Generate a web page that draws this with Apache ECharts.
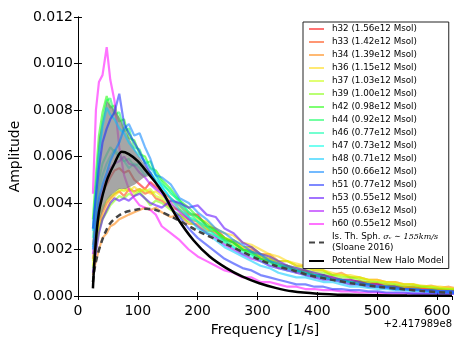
<!DOCTYPE html>
<html>
<head>
<meta charset="utf-8">
<script src="https://cdn.jsdelivr.net/npm/echarts@6.0.0/dist/echarts.min.js"></script>
<style>
  html, body { margin: 0; padding: 0; background: #fff; }
  #chart { width: 463px; height: 348px; }
</style>
</head>
<body>
<div id="chart"></div>
<script>
// shared frequency grid of the halo curves (offset from 2.417989e8)
const freq = [25, 30, 35, 41, 48, 54, 61, 69, 77, 85, 94, 103, 112, 121, 130,
  140, 155, 170, 185, 200, 215, 230, 245, 260, 275, 290, 305, 320, 335, 350, 365, 380,
  395, 410, 425, 440, 455, 470, 485, 500, 515, 530, 545, 560, 575, 590, 605, 620, 635];

const h32 = [0.0022, 0.0031, 0.0039, 0.0044, 0.0048, 0.0051, 0.0054, 0.0055, 0.0053, 0.0054, 0.0050, 0.0048, 0.0046, 0.0049, 0.0047,
  0.0045, 0.0042, 0.0039, 0.0035, 0.0035, 0.0030, 0.0029, 0.0025, 0.0023, 0.0020, 0.0019, 0.0016, 0.0015, 0.0012, 0.0013, 0.0010, 0.0011,
  0.0008, 0.0009, 0.0007, 0.0007, 0.0006, 0.00065, 0.0005, 0.00055, 0.0004, 0.00045, 0.00035, 0.0004, 0.0003, 0.0003, 0.00025, 0.00025, 0.0002];
const h33 = [0.0016, 0.0024, 0.0031, 0.0036, 0.0040, 0.0042, 0.0044, 0.0045, 0.0043, 0.0046, 0.0045, 0.0046, 0.0044, 0.0045, 0.0042,
  0.0041, 0.0038, 0.0037, 0.0033, 0.0032, 0.0029, 0.0027, 0.0024, 0.0023, 0.0020, 0.0020, 0.0017, 0.0016, 0.0014, 0.0013, 0.0011, 0.0011,
  0.0009, 0.0009, 0.0008, 0.0007, 0.0007, 0.0006, 0.0006, 0.0005, 0.0005, 0.0004, 0.0004, 0.00035, 0.00035, 0.0003, 0.0003, 0.00025, 0.00025];
const h34 = [0.0009, 0.0015, 0.0020, 0.0025, 0.0027, 0.0030, 0.0031, 0.0033, 0.0034, 0.0035, 0.0036, 0.0037, 0.0038, 0.0037, 0.0038,
  0.0036, 0.0034, 0.0035, 0.0031, 0.0031, 0.0028, 0.0028, 0.0024, 0.0024, 0.0021, 0.0021, 0.0018, 0.0018, 0.0015, 0.0015, 0.0013, 0.0013,
  0.0011, 0.0011, 0.0009, 0.0010, 0.0008, 0.0008, 0.0007, 0.0007, 0.0006, 0.0006, 0.0005, 0.0005, 0.0004, 0.00045, 0.00035, 0.0004, 0.0003];
const h36 = [0.0013, 0.0021, 0.0029, 0.0034, 0.0038, 0.0041, 0.0043, 0.0045, 0.0046, 0.0045, 0.0047, 0.0045, 0.0046, 0.0044, 0.0045,
  0.0043, 0.0041, 0.0038, 0.0036, 0.0033, 0.0032, 0.0029, 0.0027, 0.0026, 0.0023, 0.0022, 0.0020, 0.0018, 0.0017, 0.0015, 0.0014, 0.0013,
  0.0012, 0.0011, 0.0010, 0.0009, 0.0009, 0.0008, 0.0007, 0.0007, 0.0006, 0.0006, 0.0005, 0.0005, 0.00045, 0.0004, 0.0004, 0.00035, 0.0003];
const h37 = [0.0015, 0.0025, 0.0033, 0.0038, 0.0041, 0.0043, 0.0044, 0.0046, 0.0045, 0.0047, 0.0044, 0.0046, 0.0045, 0.0046, 0.0043,
  0.0042, 0.0039, 0.0037, 0.0034, 0.0032, 0.0029, 0.0028, 0.0025, 0.0024, 0.0021, 0.0021, 0.0018, 0.0017, 0.0015, 0.0015, 0.0013, 0.0012,
  0.0011, 0.0011, 0.0009, 0.0009, 0.0008, 0.0008, 0.0007, 0.0006, 0.0006, 0.0005, 0.0005, 0.0005, 0.0004, 0.0004, 0.00035, 0.0003, 0.0003];
const h39 = [0.0012, 0.0020, 0.0028, 0.0033, 0.0036, 0.0039, 0.0041, 0.0043, 0.0042, 0.0044, 0.0043, 0.0045, 0.0042, 0.0039, 0.0041,
  0.0040, 0.0037, 0.0035, 0.0032, 0.0030, 0.0027, 0.0026, 0.0023, 0.0022, 0.0020, 0.0019, 0.0017, 0.0016, 0.0014, 0.0013, 0.0012, 0.0011,
  0.0010, 0.0010, 0.0009, 0.0008, 0.0008, 0.0007, 0.0006, 0.0006, 0.0005, 0.0005, 0.0004, 0.0004, 0.0004, 0.00035, 0.0003, 0.0003, 0.00025];
const h42 = [0.0033, 0.0052, 0.0069, 0.0079, 0.0086, 0.0081, 0.0082, 0.0075, 0.0076, 0.0068, 0.0067, 0.0061, 0.0060, 0.0055, 0.0054,
  0.0050, 0.0046, 0.0041, 0.0038, 0.0034, 0.0031, 0.0028, 0.0025, 0.0023, 0.0020, 0.0018, 0.0016, 0.0015, 0.0013, 0.0012, 0.0011, 0.0010,
  0.0009, 0.0008, 0.0007, 0.0007, 0.0006, 0.0005, 0.0005, 0.0004, 0.0004, 0.00035, 0.0003, 0.0003, 0.00025, 0.00025, 0.0002, 0.0002, 0.00015];
const h44 = [0.0029, 0.0047, 0.0063, 0.0075, 0.0084, 0.0085, 0.0078, 0.0079, 0.0071, 0.0072, 0.0064, 0.0063, 0.0057, 0.0058, 0.0052,
  0.0049, 0.0044, 0.0041, 0.0036, 0.0034, 0.0030, 0.0028, 0.0024, 0.0023, 0.0020, 0.0019, 0.0016, 0.0015, 0.0013, 0.0013, 0.0011, 0.0010,
  0.0009, 0.0009, 0.0007, 0.0007, 0.0006, 0.0006, 0.0005, 0.0004, 0.0004, 0.0004, 0.0003, 0.0003, 0.00025, 0.00025, 0.0002, 0.0002, 0.0002];
const h46 = [0.0025, 0.0038, 0.0050, 0.0057, 0.0061, 0.0064, 0.0062, 0.0060, 0.0058, 0.0059, 0.0056, 0.0057, 0.0054, 0.0053, 0.0050,
  0.0048, 0.0045, 0.0040, 0.0036, 0.0032, 0.0030, 0.0026, 0.0024, 0.0021, 0.0019, 0.0018, 0.0015, 0.0014, 0.0013, 0.0011, 0.0011, 0.0009,
  0.0009, 0.0008, 0.0007, 0.0006, 0.0006, 0.0005, 0.0005, 0.0004, 0.0004, 0.00035, 0.0003, 0.0003, 0.00025, 0.00025, 0.0002, 0.0002, 0.00015];
const h47 = [0.0021, 0.0034, 0.0046, 0.0052, 0.0057, 0.0060, 0.0063, 0.0061, 0.0058, 0.0055, 0.0057, 0.0055, 0.0052, 0.0053, 0.0049,
  0.0047, 0.0042, 0.0039, 0.0034, 0.0032, 0.0028, 0.0026, 0.0023, 0.0021, 0.0018, 0.0017, 0.0015, 0.0013, 0.0012, 0.0011, 0.0010, 0.0009,
  0.0008, 0.0007, 0.0007, 0.0006, 0.0005, 0.0005, 0.0004, 0.0004, 0.00035, 0.0003, 0.0003, 0.00025, 0.00025, 0.0002, 0.0002, 0.00015, 0.00015];
const h48 = [0.0028, 0.0045, 0.0061, 0.0073, 0.0081, 0.0078, 0.0076, 0.0072, 0.0070, 0.0066, 0.0063, 0.0060, 0.0058, 0.0055, 0.0052,
  0.0047, 0.0042, 0.0037, 0.0034, 0.0029, 0.0027, 0.0024, 0.0021, 0.0019, 0.0017, 0.0015, 0.0013, 0.0012, 0.0010, 0.0009, 0.0008, 0.0008,
  0.0007, 0.0006, 0.0006, 0.0005, 0.0004, 0.0004, 0.00035, 0.0003, 0.0003, 0.00025, 0.00025, 0.0002, 0.0002, 0.00015, 0.00015, 0.00015, 0.0001];
const h50 = [0.0020, 0.0032, 0.0042, 0.0048, 0.0053, 0.0058, 0.0062, 0.0066, 0.0072, 0.0074, 0.0069, 0.0070, 0.0064, 0.0059, 0.0052,
  0.0051, 0.0048, 0.0042, 0.0040, 0.0036, 0.0033, 0.0029, 0.0027, 0.0024, 0.0022, 0.0019, 0.0018, 0.0015, 0.0014, 0.0012, 0.0011, 0.0010,
  0.0009, 0.0008, 0.0007, 0.0007, 0.0006, 0.0005, 0.0005, 0.0004, 0.0004, 0.0003, 0.0003, 0.00025, 0.00025, 0.0002, 0.0002, 0.0002, 0.00015];
const h51 = [0.0029, 0.0043, 0.0055, 0.0066, 0.0072, 0.0076, 0.0079, 0.0087, 0.0074, 0.0070, 0.0066, 0.0062, 0.0057, 0.0053, 0.0049,
  0.0045, 0.0038, 0.0034, 0.0029, 0.0025, 0.0022, 0.0019, 0.0016, 0.0014, 0.0012, 0.0011, 0.0009, 0.0008, 0.0007, 0.0006, 0.0005, 0.0005,
  0.0004, 0.0004, 0.0003, 0.0003, 0.00025, 0.00025, 0.0002, 0.0002, 0.00015, 0.00015, 0.00015, 0.0001, 0.0001, 0.0001, 0.0001, 0.0001, 0.0001];
const h53 = [0.0010, 0.0019, 0.0027, 0.0033, 0.0037, 0.0040, 0.0042, 0.0041, 0.0042, 0.0041, 0.0043, 0.0044, 0.0042, 0.0040, 0.0039,
  0.0038, 0.0041, 0.0040, 0.0038, 0.0039, 0.0035, 0.0034, 0.0029, 0.0027, 0.0023, 0.0021, 0.0018, 0.0017, 0.0015, 0.0013, 0.0012, 0.0011,
  0.0010, 0.0009, 0.0008, 0.0007, 0.0007, 0.0006, 0.0005, 0.0005, 0.0004, 0.0004, 0.0003, 0.0003, 0.00025, 0.00025, 0.0002, 0.0002, 0.0002];
const h55 = [0.0018, 0.0029, 0.0040, 0.0046, 0.0051, 0.0055, 0.0057, 0.0058, 0.0060, 0.0057, 0.0056, 0.0053, 0.0051, 0.0048, 0.0046,
  0.0044, 0.0040, 0.0036, 0.0033, 0.0030, 0.0027, 0.0025, 0.0022, 0.0020, 0.0018, 0.0016, 0.0015, 0.0013, 0.0012, 0.0011, 0.0010, 0.0009,
  0.0008, 0.0007, 0.0007, 0.0006, 0.0005, 0.0005, 0.0004, 0.0004, 0.00035, 0.0003, 0.0003, 0.00025, 0.00025, 0.0002, 0.0002, 0.0002, 0.00015];
const h60 = [0.0044, 0.0080, 0.0092, 0.0095, 0.0107, 0.0093, 0.0084, 0.0064, 0.0052, 0.0046, 0.0042, 0.0039, 0.0038, 0.0037, 0.0035,
  0.0030, 0.0027, 0.0024, 0.0020, 0.0017, 0.0015, 0.0013, 0.0011, 0.0010, 0.0008, 0.0008, 0.0006, 0.0006, 0.0005, 0.0004, 0.0004, 0.0003,
  0.0003, 0.00025, 0.00025, 0.0002, 0.0002, 0.00015, 0.00015, 0.00015, 0.0001, 0.0001, 0.0001, 0.0001, 0.0001, 0.0001, 0.0001, 0.0001, 0.0001];

const haloNames = ['h32 (1.56e12 Msol)', 'h33 (1.42e12 Msol)', 'h34 (1.39e12 Msol)', 'h36 (1.15e12 Msol)',
  'h37 (1.03e12 Msol)', 'h39 (1.00e12 Msol)', 'h42 (0.98e12 Msol)', 'h44 (0.92e12 Msol)',
  'h46 (0.77e12 Msol)', 'h47 (0.73e12 Msol)', 'h48 (0.71e12 Msol)', 'h50 (0.66e12 Msol)',
  'h51 (0.77e12 Msol)', 'h53 (0.55e12 Msol)', 'h55 (0.63e12 Msol)', 'h60 (0.55e12 Msol)'];
const haloAmps = [h32, h33, h34, h36, h37, h39, h42, h44, h46, h47, h48, h50, h51, h53, h55, h60];

// grey band between two envelopes at low frequency
const bandFreq = [25, 35, 48, 58, 69, 80, 95, 110, 125];
const bandLow = [0.0016, 0.0032, 0.0041, 0.0044, 0.0046, 0.0046, 0.0048, 0.0051, 0.0052];
const bandHigh = [0.0032, 0.0068, 0.0084, 0.0081, 0.0077, 0.0071, 0.0063, 0.0057, 0.0052];

// isothermal sphere (dashed)
const sphFreq = [25, 28, 32, 39, 45, 53, 65, 78, 95, 110, 130, 165, 200, 250, 275, 300, 330, 360, 385, 420, 457, 500, 540, 580, 625];
const sphAmp = [0.0006, 0.0012, 0.0017, 0.0023, 0.0027, 0.0031, 0.0034, 0.0036, 0.0037, 0.00375, 0.0037, 0.0033, 0.0028, 0.0022, 0.0019, 0.0016, 0.0013, 0.0011, 0.0009, 0.00072, 0.00055, 0.0004, 0.0003, 0.0002, 0.00014];

// new halo model (black)
const modelFreq = [25, 27, 31, 35, 39, 45, 50, 61, 73, 85, 100, 110, 121, 132, 143, 165, 193, 220, 248, 275, 303, 330, 358, 400, 450, 500, 550, 625];
const modelAmp = [0.00033, 0.0013, 0.0027, 0.0036, 0.0041, 0.0047, 0.0051, 0.0057, 0.0062, 0.0061, 0.0058, 0.0055, 0.00515, 0.0048, 0.0044, 0.0034, 0.0024, 0.0017, 0.0012, 0.00083, 0.00055, 0.00035, 0.0002, 0.0001, 0.00005, 0.00003, 0.00002, 0.00001];

const xTicks = [0, 100, 200, 300, 400, 500, 600];
const yTicks = [0, 0.002, 0.004, 0.006, 0.008, 0.010, 0.012];

const haloColors = ['rgba(255,0,0,0.55)', 'rgba(255,64,0,0.55)', 'rgba(255,128,0,0.55)', 'rgba(255,215,0,0.55)',
  'rgba(200,255,0,0.55)', 'rgba(128,255,0,0.55)', 'rgba(20,255,0,0.55)', 'rgba(0,255,85,0.55)',
  'rgba(0,255,170,0.55)', 'rgba(0,255,230,0.55)', 'rgba(0,200,255,0.55)', 'rgba(0,130,255,0.55)',
  'rgba(20,40,255,0.55)', 'rgba(85,0,255,0.55)', 'rgba(170,0,255,0.55)', 'rgba(255,0,255,0.55)'];
// blue curves that sit above the grey band
const onTop = ['h48 (0.71e12 Msol)', 'h50 (0.66e12 Msol)', 'h51 (0.77e12 Msol)'];

const SPH = 'Is. Th. Sph.';
const MODEL = 'Potential New Halo Model';
const FONT = 'DejaVu Sans';

const chart = echarts.init(document.getElementById('chart'));

const series = [];
haloAmps.forEach((amps, k) => {
  series.push({
    name: haloNames[k], type: 'line', data: freq.map((f, i) => [f, amps[i]]),
    symbol: 'none', lineStyle: { width: 2.2, color: haloColors[k] }, itemStyle: { color: haloColors[k] },
    z: onTop.indexOf(haloNames[k]) >= 0 ? 4 : 2
  });
});
// grey band, drawn through the axis scales
series.push({
  type: 'custom', coordinateSystem: 'cartesian2d', data: [[0, 0]], silent: true, z: 3,
  renderItem: (params, api) => {
    const pts = bandFreq.map((f, i) => api.coord([f, bandHigh[i]]));
    for (let i = bandFreq.length - 1; i >= 0; i--) pts.push(api.coord([bandFreq[i], bandLow[i]]));
    return { type: 'polygon', shape: { points: pts }, style: { fill: 'rgba(120,120,120,0.66)' } };
  }
});
series.push({
  name: SPH, type: 'line', data: sphFreq.map((f, i) => [f, sphAmp[i]]), smooth: 0.3,
  symbol: 'none', lineStyle: { width: 2.5, color: '#444', type: [6, 4] }, itemStyle: { color: '#444' }, z: 5
});
series.push({
  name: MODEL, type: 'line', data: modelFreq.map((f, i) => [f, modelAmp[i]]), smooth: 0.3,
  symbol: 'none', lineStyle: { width: 2.5, color: '#000' }, itemStyle: { color: '#000' }, z: 6
});

const axisCommon = {
  axisLine: { show: true, lineStyle: { color: '#000', width: 1 } },
  axisTick: { show: true, inside: true, length: 4, lineStyle: { color: '#000' } },
  splitLine: { show: false }
};

chart.setOption({
  animation: false,
  textStyle: { fontFamily: FONT },
  grid: { left: 73, right: 11, top: 17, bottom: 52 },
  xAxis: [
    Object.assign({
      type: 'value', min: 0, max: 625, interval: 100, position: 'bottom',
      name: 'Frequency [1/s]', nameLocation: 'middle', nameGap: 26,
      nameTextStyle: { fontSize: 14, color: '#000', fontFamily: FONT },
      axisLabel: {
        fontSize: 14, color: '#000', margin: 8, showMaxLabel: false,
        formatter: v => (xTicks.indexOf(v) >= 0 ? String(v) : '')
      }
    }, axisCommon),
    Object.assign({
      type: 'value', min: 0, max: 625, interval: 100, position: 'top', axisLabel: { show: false }
    }, axisCommon)
  ],
  yAxis: [
    Object.assign({
      type: 'value', min: 0, max: 0.012, interval: 0.002, position: 'left',
      name: 'Amplitude', nameLocation: 'middle', nameGap: 48,
      nameTextStyle: { fontSize: 14, color: '#000', fontFamily: FONT },
      axisLabel: {
        fontSize: 14, color: '#000', margin: 5,
        formatter: v => (yTicks.some(t => Math.abs(t - v) < 1e-9) ? v.toFixed(3) : '')
      }
    }, axisCommon),
    Object.assign({
      type: 'value', min: 0, max: 0.012, interval: 0.002, position: 'right', axisLabel: { show: false }
    }, axisCommon)
  ],
  legend: {
    data: haloNames.concat([SPH, MODEL]),
    orient: 'vertical', left: 303, top: 22,
    padding: [1.5, 5, 2, 5], itemGap: 2, itemWidth: 15, itemHeight: 11,
    backgroundColor: '#fff', borderColor: '#222', borderWidth: 1,
    selectedMode: false,
    itemStyle: { color: 'rgba(0,0,0,0)', borderWidth: 0, opacity: 0 },
    textStyle: {
      fontSize: 8.75, lineHeight: 11, color: '#000', fontFamily: FONT, padding: [0, 0, 0, 3],
      rich: {
        t: { fontSize: 8.75, lineHeight: 11, color: '#000', fontFamily: FONT },
        m: { fontSize: 8, lineHeight: 11, color: '#000', fontFamily: 'DejaVu Serif', fontStyle: 'italic' }
      }
    },
    formatter: name => (name === SPH
      ? '{t|Is. Th. Sph. }{m|σᵥ ∼ 155km/s}\n{t|(Sloane 2016)}'
      : name)
  },
  graphic: [{
    type: 'text', right: 11, top: 319,
    style: { text: '+2.417989e8', font: '10px "DejaVu Sans"', fill: '#000' }
  }],
  series: series
});
</script>
</body>
</html>
